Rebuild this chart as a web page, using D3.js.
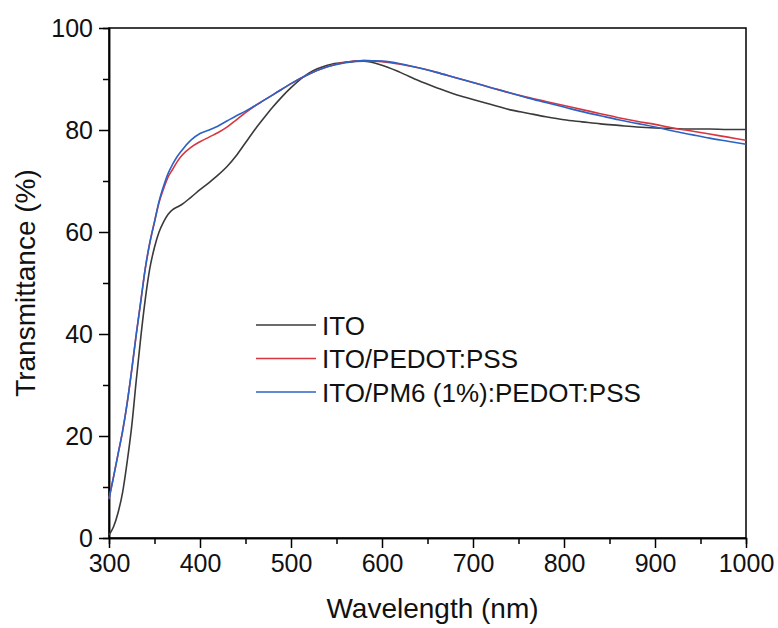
<!DOCTYPE html>
<meta charset="utf-8">
<style>
    body { margin: 0; background: #fff; }
    text { font-family: "Liberation Sans", Arial, sans-serif; fill: #111; }
    .axis path, .axis line { stroke: #000; stroke-width: 1.5px; }
    .series { fill: none; stroke-width: 1.6px; }
</style>
<body>
<svg width="778" height="628"></svg>
<script src="https://d3js.org/d3.v7.min.js"></script>
<script>
    const wavelength = [300, 305, 310, 315, 320, 325, 330, 335, 340, 345, 350, 355, 360, 365, 370, 375, 380,
        390, 400, 410, 420, 430, 440, 450, 460, 470, 480, 490, 500, 520, 540, 560, 580, 600, 620, 640, 660,
        680, 700, 720, 740, 760, 780, 800, 820, 840, 860, 880, 900, 920, 940, 960, 980, 1000];

    const ito = [0.6, 2.2, 5, 9, 15, 22, 31, 39.5, 47, 53, 57, 60, 62, 63.5, 64.4, 64.9, 65.4,
        66.8, 68.3, 69.7, 71.2, 72.9, 75, 77.5, 80, 82.3, 84.5, 86.5, 88.3, 91.2, 92.7, 93.3, 93.5, 92.7, 91.3, 89.7, 88.3,
        87, 86, 85, 84, 83.3, 82.6, 82, 81.6, 81.2, 80.9, 80.6, 80.4, 80.3, 80.2, 80.2, 80.1, 80.1];

    const itoPedot = [7.8, 12, 16.5, 21, 26.5, 33, 40, 46.5, 53, 58, 62, 65.8, 68.5, 70.8, 72.3, 73.8, 75,
        76.6, 77.7, 78.6, 79.5, 80.6, 82, 83.4, 84.7, 85.8, 86.9, 88, 89.1, 91, 92.4, 93.3, 93.6, 93.4, 92.9, 92.2, 91.3,
        90.3, 89.3, 88.3, 87.3, 86.4, 85.6, 84.8, 84, 83.2, 82.4, 81.7, 81.1, 80.4, 79.8, 79.2, 78.6, 78];

    const itoPm6 = [7.6, 12, 16.5, 21, 26.5, 33, 40, 46.5, 53, 58, 62, 66, 69, 71.5, 73.3, 74.8, 76,
        78, 79.3, 80, 80.8, 81.8, 82.8, 83.7, 84.7, 85.8, 86.9, 88, 89.1, 91, 92.4, 93.2, 93.6, 93.5, 93, 92.2, 91.3,
        90.3, 89.3, 88.3, 87.3, 86.3, 85.4, 84.5, 83.6, 82.8, 82, 81.3, 80.6, 79.8, 79.1, 78.4, 77.8, 77.2];

    const seriesNames = ["ITO", "ITO/PEDOT:PSS", "ITO/PM6 (1%):PEDOT:PSS"];
    const seriesColors = ["#3a3a3a", "#d8363f", "#2c62c6"];
    const xTicks = [300, 400, 500, 600, 700, 800, 900, 1000];
    const yTicks = [0, 20, 40, 60, 80, 100];

    const svg = d3.select("svg");
    const m = {left: 109, right: 746, top: 28, bottom: 538};

    const x = d3.scaleLinear().domain([300, 1000]).range([m.left, m.right]);
    const y = d3.scaleLinear().domain([0, 100]).range([m.bottom, m.top]);

    // minor ticks first, majors drawn on top
    svg.append("g")
        .attr("class", "axis")
        .attr("transform", `translate(0,${m.bottom})`)
        .call(d3.axisBottom(x).tickValues(d3.range(350, 1000, 100)).tickSize(6).tickFormat(""));
    svg.append("g")
        .attr("class", "axis")
        .attr("transform", `translate(${m.left},0)`)
        .call(d3.axisLeft(y).tickValues(d3.range(10, 100, 20)).tickSize(6).tickFormat(""));

    const xAxis = svg.append("g")
        .attr("class", "axis")
        .attr("transform", `translate(0,${m.bottom})`)
        .call(d3.axisBottom(x).tickValues(xTicks).tickFormat(d3.format("d"))
            .tickSize(10).tickSizeOuter(0).tickPadding(6));
    xAxis.selectAll("text").attr("font-size", 25).attr("font-family", "Liberation Sans").attr("fill", "#111");

    const yAxis = svg.append("g")
        .attr("class", "axis")
        .attr("transform", `translate(${m.left},0)`)
        .call(d3.axisLeft(y).tickValues(yTicks).tickSize(10).tickSizeOuter(0).tickPadding(6));
    yAxis.selectAll("text").attr("font-size", 25).attr("font-family", "Liberation Sans").attr("fill", "#111");

    // frame
    svg.append("rect")
        .attr("x", m.left).attr("y", m.top)
        .attr("width", m.right - m.left).attr("height", m.bottom - m.top)
        .attr("fill", "none").attr("stroke", "#000").attr("stroke-width", 1.5);

    const line = d3.line()
        .x((d, i) => x(wavelength[i]))
        .y(d => y(d))
        .curve(d3.curveMonotoneX);

    [ito, itoPedot, itoPm6].forEach((vals, k) => {
        svg.append("path")
            .datum(vals)
            .attr("class", "series")
            .attr("stroke", seriesColors[k])
            .attr("d", line);
    });

    // legend
    const legend = svg.append("g").attr("transform", "translate(256,325)");
    seriesNames.forEach((name, k) => {
        const g = legend.append("g").attr("transform", `translate(0,${k * 33.5})`);
        g.append("line").attr("x1", 0).attr("x2", 60).attr("y1", 0).attr("y2", 0)
            .attr("stroke", seriesColors[k]).attr("stroke-width", 1.6);
        g.append("text").attr("x", 66).attr("y", 9.5).attr("font-size", 26).text(name);
    });

    svg.append("text")
        .attr("x", (m.left + m.right) / 2 + 5).attr("y", 618)
        .attr("text-anchor", "middle").attr("font-size", 28)
        .text("Wavelength (nm)");

    svg.append("text")
        .attr("transform", `translate(35,${(m.top + m.bottom) / 2}) rotate(-90)`)
        .attr("text-anchor", "middle").attr("font-size", 28)
        .text("Transmittance (%)");
</script>
</body>
